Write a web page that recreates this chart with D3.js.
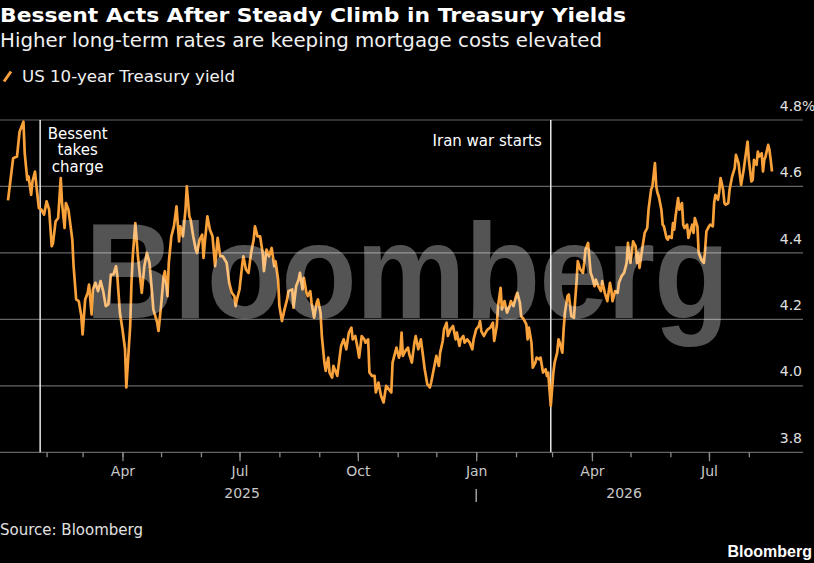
<!DOCTYPE html>
<html>
<head>
<meta charset="utf-8">
<script src="https://cdn.jsdelivr.net/npm/d3@7"></script>
<style>
  body { margin: 0; background: #000; }
  svg { display: block; font-family: "DejaVu Sans", "Liberation Sans", sans-serif; }
</style>
</head>
<body>
<svg id="chart" width="814" height="563"></svg>
<script>
// US 10-year Treasury yield
var dates = [
  '2025-01-02','2025-01-06','2025-01-09','2025-01-11','2025-01-14','2025-01-15','2025-01-17','2025-01-18','2025-01-20','2025-01-21','2025-01-23','2025-01-24','2025-01-26','2025-01-28','2025-01-30',
  '2025-02-01','2025-02-03','2025-02-05','2025-02-06','2025-02-08','2025-02-10','2025-02-12','2025-02-13','2025-02-15','2025-02-16','2025-02-18','2025-02-19','2025-02-21','2025-02-22','2025-02-24','2025-02-26','2025-02-28',
  '2025-03-01','2025-03-03','2025-03-05','2025-03-06','2025-03-08','2025-03-09','2025-03-11','2025-03-13','2025-03-15','2025-03-17','2025-03-19','2025-03-21','2025-03-23','2025-03-25','2025-03-27','2025-03-28','2025-03-30',
  '2025-04-01','2025-04-03','2025-04-04','2025-04-07','2025-04-08','2025-04-09','2025-04-11','2025-04-13','2025-04-16','2025-04-18','2025-04-20','2025-04-22','2025-04-24','2025-04-25','2025-04-28','2025-04-29',
  '2025-05-01','2025-05-03','2025-05-04','2025-05-06','2025-05-07','2025-05-09','2025-05-11','2025-05-13','2025-05-15','2025-05-16','2025-05-18','2025-05-20','2025-05-21','2025-05-23','2025-05-24','2025-05-26','2025-05-28','2025-05-29','2025-05-31',
  '2025-06-02','2025-06-03','2025-06-04','2025-06-06','2025-06-08','2025-06-10','2025-06-12','2025-06-14','2025-06-16','2025-06-18','2025-06-21','2025-06-23','2025-06-25','2025-06-27','2025-06-28','2025-06-29',
  '2025-07-01','2025-07-03','2025-07-04','2025-07-06','2025-07-08','2025-07-10','2025-07-12','2025-07-13','2025-07-15','2025-07-17','2025-07-19','2025-07-20','2025-07-22','2025-07-24','2025-07-26','2025-07-28','2025-07-29','2025-07-31',
  '2025-08-01','2025-08-03','2025-08-05','2025-08-07','2025-08-08','2025-08-11','2025-08-12','2025-08-14','2025-08-16','2025-08-17','2025-08-19','2025-08-20','2025-08-22','2025-08-23','2025-08-25','2025-08-26','2025-08-28','2025-08-30','2025-08-31',
  '2025-09-02','2025-09-03','2025-09-05','2025-09-06','2025-09-08','2025-09-09','2025-09-11','2025-09-12','2025-09-14','2025-09-15','2025-09-17','2025-09-18','2025-09-20','2025-09-22','2025-09-24','2025-09-26','2025-09-27','2025-09-29',
  '2025-10-01','2025-10-02','2025-10-04','2025-10-06','2025-10-07','2025-10-09','2025-10-10','2025-10-12','2025-10-14','2025-10-15','2025-10-17','2025-10-19','2025-10-21','2025-10-23','2025-10-25','2025-10-27','2025-10-28','2025-10-30','2025-10-31',
  '2025-11-02','2025-11-03','2025-11-04','2025-11-05','2025-11-07','2025-11-09','2025-11-10','2025-11-12','2025-11-14','2025-11-15','2025-11-17','2025-11-19','2025-11-20','2025-11-22','2025-11-24','2025-11-26','2025-11-27','2025-11-29',
  '2025-12-01','2025-12-03','2025-12-04','2025-12-06','2025-12-07','2025-12-09','2025-12-10','2025-12-12','2025-12-14','2025-12-16','2025-12-17','2025-12-19','2025-12-20','2025-12-22','2025-12-23','2025-12-25','2025-12-27','2025-12-29','2025-12-30',
  '2026-01-01','2026-01-03','2026-01-04','2026-01-05','2026-01-07','2026-01-09','2026-01-10','2026-01-12','2026-01-14','2026-01-15','2026-01-17','2026-01-18','2026-01-20','2026-01-21','2026-01-23','2026-01-25','2026-01-27','2026-01-28','2026-01-30',
  '2026-02-01','2026-02-02','2026-02-04','2026-02-05','2026-02-07','2026-02-09','2026-02-10','2026-02-11','2026-02-13','2026-02-14','2026-02-16','2026-02-17','2026-02-19','2026-02-20','2026-02-22','2026-02-24','2026-02-25','2026-02-26','2026-02-28',
  '2026-03-02','2026-03-03','2026-03-05','2026-03-06','2026-03-07','2026-03-09','2026-03-10','2026-03-11','2026-03-13','2026-03-14','2026-03-16','2026-03-18','2026-03-19','2026-03-20','2026-03-21','2026-03-23','2026-03-25','2026-03-26','2026-03-27','2026-03-29','2026-03-31',
  '2026-04-01','2026-04-03','2026-04-04','2026-04-06','2026-04-08','2026-04-09','2026-04-11','2026-04-13','2026-04-15','2026-04-16','2026-04-17','2026-04-19','2026-04-21','2026-04-22','2026-04-24','2026-04-26','2026-04-28','2026-04-29','2026-04-30',
  '2026-05-01','2026-05-03','2026-05-05','2026-05-06','2026-05-07','2026-05-08','2026-05-10','2026-05-12','2026-05-14','2026-05-15','2026-05-17','2026-05-18','2026-05-20','2026-05-21','2026-05-22','2026-05-23','2026-05-25','2026-05-26','2026-05-27','2026-05-29','2026-05-30','2026-05-31',
  '2026-06-02','2026-06-03','2026-06-04','2026-06-05','2026-06-07','2026-06-08','2026-06-10','2026-06-11','2026-06-12','2026-06-14','2026-06-15','2026-06-16','2026-06-18','2026-06-19','2026-06-20','2026-06-22','2026-06-23','2026-06-24','2026-06-25','2026-06-27','2026-06-28','2026-06-29',
  '2026-07-01','2026-07-02','2026-07-04','2026-07-05','2026-07-06','2026-07-08','2026-07-09','2026-07-10','2026-07-12','2026-07-13','2026-07-14','2026-07-16','2026-07-17','2026-07-19','2026-07-21','2026-07-22','2026-07-24','2026-07-25','2026-07-26','2026-07-28','2026-07-29','2026-07-31',
  '2026-08-01','2026-08-03','2026-08-04','2026-08-05','2026-08-07','2026-08-08','2026-08-09','2026-08-11','2026-08-12','2026-08-13','2026-08-14','2026-08-16','2026-08-17','2026-08-18','2026-08-19'
];
var yields = [
  4.558,4.685,4.69,4.765,4.795,4.70,4.62,4.63,4.575,4.615,4.645,4.605,4.535,4.53,4.515,
  4.555,4.53,4.42,4.43,4.495,4.505,4.625,4.55,4.475,4.55,4.53,4.50,4.44,4.36,4.26,4.255,4.21,
  4.155,4.26,4.28,4.305,4.215,4.29,4.31,4.285,4.315,4.285,4.24,4.245,4.335,4.335,4.36,4.33,4.22,
  4.17,4.11,3.995,4.18,4.31,4.39,4.49,4.39,4.28,4.36,4.40,4.37,4.28,4.23,4.19,4.165,
  4.24,4.33,4.345,4.27,4.37,4.45,4.48,4.54,4.435,4.48,4.45,4.53,4.60,4.51,4.50,4.45,4.41,4.40,4.44,
  4.455,4.385,4.43,4.51,4.47,4.45,4.36,4.445,4.39,4.39,4.37,4.31,4.28,4.27,4.24,4.26,
  4.29,4.36,4.39,4.35,4.34,4.40,4.44,4.48,4.45,4.45,4.40,4.345,4.41,4.39,4.415,4.36,4.375,4.32,
  4.24,4.195,4.23,4.26,4.285,4.29,4.235,4.30,4.32,4.34,4.29,4.325,4.28,4.27,4.285,4.25,4.205,4.25,4.26,
  4.22,4.15,4.07,4.045,4.085,4.04,4.025,4.06,4.04,4.03,4.09,4.12,4.14,4.11,4.16,4.175,4.14,4.15,
  4.11,4.085,4.15,4.14,4.13,4.14,4.04,4.03,4.03,3.98,4.01,3.97,3.95,4.00,3.99,3.98,4.07,4.10,4.115,
  4.085,4.10,4.16,4.09,4.105,4.115,4.095,4.07,4.13,4.15,4.11,4.14,4.11,4.05,4.005,3.995,4.01,4.05,
  4.09,4.06,4.10,4.135,4.17,4.19,4.15,4.17,4.18,4.14,4.16,4.12,4.14,4.15,4.13,4.14,4.13,4.11,4.14,
  4.17,4.18,4.195,4.165,4.15,4.165,4.17,4.175,4.19,4.135,4.18,4.24,4.295,4.23,4.255,4.22,4.24,4.255,4.24,
  4.27,4.28,4.25,4.21,4.20,4.185,4.14,4.175,4.13,4.055,4.07,4.085,4.08,4.085,4.04,4.05,4.03,4.04,3.94,
  4.04,4.07,4.10,4.14,4.13,4.10,4.17,4.22,4.27,4.275,4.21,4.205,4.26,4.31,4.375,4.35,4.34,4.37,4.41,4.43,4.34,
  4.33,4.30,4.32,4.30,4.285,4.315,4.28,4.255,4.31,4.29,4.255,4.285,4.28,4.31,4.33,4.34,4.37,4.43,4.39,
  4.37,4.435,4.42,4.37,4.40,4.355,4.41,4.46,4.475,4.53,4.59,4.60,4.67,4.60,4.58,4.57,4.53,4.485,4.48,4.445,4.44,4.45,
  4.445,4.49,4.47,4.51,4.565,4.53,4.55,4.485,4.475,4.485,4.445,4.46,4.485,4.46,4.505,4.48,4.40,4.39,4.38,4.37,4.41,4.465,
  4.48,4.485,4.48,4.55,4.575,4.56,4.585,4.625,4.59,4.55,4.545,4.55,4.59,4.63,4.655,4.695,4.67,4.635,4.605,4.65,4.68,4.735,
  4.68,4.615,4.62,4.68,4.665,4.705,4.69,4.70,4.645,4.68,4.69,4.725,4.71,4.68,4.645
];
var yTicks = [3.8, 4.0, 4.2, 4.4, 4.6, 4.8];
var events = [
  { date: '2025-01-27', lines: ['Bessent', 'takes', 'charge'], side: 'right' },
  { date: '2026-02-28', lines: ['Iran war starts'], side: 'left' }
];
var years = [2025, 2026];

var parse = d3.timeParse('%Y-%m-%d');
var data = dates.map(function (d, i) { return { date: parse(d), value: yields[i] }; });

var orange = '#f9a13a';
var gridColor = '#646464';

var svg = d3.select('#chart');
svg.append('rect').attr('width', 814).attr('height', 563).attr('fill', '#000');

var x = d3.scaleTime()
  .domain(d3.extent(data, function (d) { return d.date; }))
  .range([8, 772]);
var y = d3.scaleLinear().domain([3.8, 4.8]).range([452.3, 120]);

// stretch/squeeze a text to the width it has in the reference
function fit(sel, w) {
  sel.attr('textLength', w).attr('lengthAdjust', 'spacingAndGlyphs');
  return sel;
}

// headline block
fit(svg.append('text').attr('x', 0).attr('y', 22)
  .attr('fill', '#fff').attr('font-size', 20).attr('font-weight', 'bold')
  .text('Bessent Acts After Steady Climb in Treasury Yields'), 626);
fit(svg.append('text').attr('x', 0).attr('y', 47)
  .attr('fill', '#f0f0f0').attr('font-size', 20)
  .text('Higher long-term rates are keeping mortgage costs elevated'), 602);

// legend
svg.append('line')
  .attr('x1', 4).attr('y1', 81.5).attr('x2', 11).attr('y2', 71.5)
  .attr('stroke', orange).attr('stroke-width', 3);
fit(svg.append('text').attr('x', 22).attr('y', 82)
  .attr('fill', '#f0f0f0').attr('font-size', 15)
  .text('US 10-year Treasury yield'), 213);

// gridlines + right labels
svg.append('g').selectAll('line').data(yTicks).enter().append('line')
  .attr('x1', 0).attr('x2', 803)
  .attr('y1', function (d) { return y(d); })
  .attr('y2', function (d) { return y(d); })
  .attr('stroke', gridColor).attr('stroke-width', 1.2);

svg.append('g').selectAll('text').data(yTicks).enter().append('text')
  .attr('x', 802)
  .attr('y', function (d) { return y(d) - 9.4; })
  .attr('text-anchor', 'end')
  .attr('fill', '#e0e0e0').attr('font-size', 14)
  .text(function (d) { return d.toFixed(1); });
svg.append('text')
  .attr('x', 802).attr('y', y(yTicks[yTicks.length - 1]) - 9.4)
  .attr('fill', '#e0e0e0').attr('font-size', 14)
  .text('%');

// x axis: monthly minor ticks, quarterly labelled ticks
var axisY = y(3.8);
var minor = svg.append('g').attr('transform', 'translate(0,' + axisY + ')')
  .call(d3.axisBottom(x).ticks(d3.timeMonth.every(1)).tickSize(5).tickFormat(''));
var major = svg.append('g').attr('transform', 'translate(0,' + axisY + ')')
  .call(d3.axisBottom(x).ticks(d3.timeMonth.every(3)).tickSize(9).tickPadding(5)
    .tickFormat(d3.timeFormat('%b')));
[minor, major].forEach(function (g) {
  g.select('.domain').remove();
  g.selectAll('line').attr('stroke', '#8a8a8a').attr('stroke-width', 1.3);
  g.selectAll('text').attr('fill', '#c8c8c8').attr('font-size', 14)
    .attr('font-family', '"DejaVu Sans", sans-serif');
});

// year labels centred on each year's visible span
var dom = x.domain();
years.forEach(function (yr, i) {
  var a = new Date(Math.max(dom[0], new Date(yr, 0, 1)));
  var b = new Date(Math.min(dom[1], new Date(yr + 1, 0, 1)));
  svg.append('text')
    .attr('x', (x(a) + x(b)) / 2).attr('y', 497.5)
    .attr('text-anchor', 'middle')
    .attr('fill', '#c8c8c8').attr('font-size', 14)
    .text(yr);
  if (i > 0) {
    svg.append('line')
      .attr('x1', x(new Date(yr, 0, 1))).attr('x2', x(new Date(yr, 0, 1)))
      .attr('y1', 489).attr('y2', 502)
      .attr('stroke', '#c8c8c8').attr('stroke-width', 1.2);
  }
});

// event lines
events.forEach(function (ev) {
  var ex = x(parse(ev.date));
  svg.append('line')
    .attr('x1', ex).attr('x2', ex)
    .attr('y1', y(4.8)).attr('y2', y(3.8))
    .attr('stroke', '#e8e8e8').attr('stroke-width', 1.5);
  var t = svg.append('text')
    .attr('fill', '#fff').attr('font-size', 15)
    .attr('text-anchor', ev.side === 'right' ? 'middle' : 'end');
  ev.lines.forEach(function (ln, j) {
    t.append('tspan')
      .attr('x', ev.side === 'right' ? ex + 37.5 : ex - 9)
      .attr('y', (ev.side === 'right' ? 138.5 : 146) + j * 16.5)
      .text(ln);
  });
});

// the series
var line = d3.line()
  .x(function (d) { return x(d.date); })
  .y(function (d) { return y(d.value); });
svg.append('path').datum(data)
  .attr('d', line)
  .attr('fill', 'none')
  .attr('stroke', orange)
  .attr('stroke-width', 2.7)
  .attr('stroke-linejoin', 'round');

// watermark sits over the line; squeezed horizontally to the reference width
svg.append('text')
  .attr('transform', 'translate(85,318.3) scale(0.915,1)')
  .attr('font-family', '"Liberation Sans", Arial, sans-serif')
  .attr('font-weight', 'bold').attr('font-size', 135)
  .attr('letter-spacing', -1)
  .attr('fill', '#fff').attr('fill-opacity', 0.33)
  .text('Bloomberg');

// footer
svg.append('text').attr('x', 0).attr('y', 535)
  .attr('fill', '#e0e0e0').attr('font-size', 15)
  .text('Source: Bloomberg');
svg.append('text').attr('x', 812).attr('y', 556.5)
  .attr('text-anchor', 'end')
  .attr('fill', '#fff').attr('font-size', 16).attr('font-weight', 'bold')
  .attr('font-family', '"Liberation Sans", Arial, sans-serif')
  .text('Bloomberg');
</script>
</body>
</html>
